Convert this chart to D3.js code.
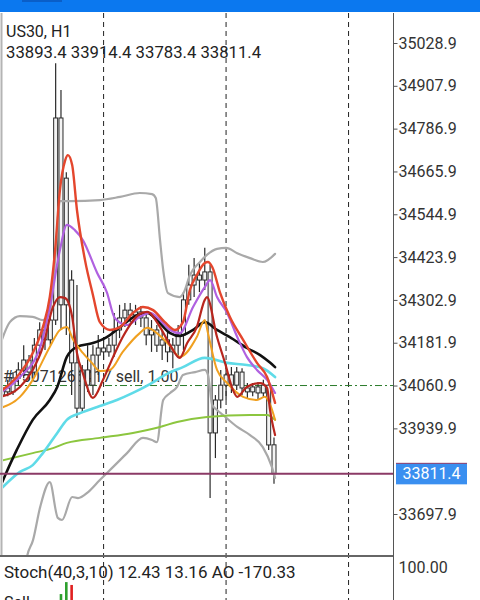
<!DOCTYPE html>
<html><head><meta charset="utf-8">
<script src="https://cdn.jsdelivr.net/npm/d3@7"></script>
<style>html,body{margin:0;padding:0;background:#fff;overflow:hidden}svg{display:block;font-family:Roboto,"Noto Sans",sans-serif}</style>
</head><body><svg id="c" width="480" height="600"></svg>
<script>
const symbolTitle = "US30, H1";
const ohlcHeader = [33893.4, 33914.4, 33783.4, 33811.4];
const priceTicks = [35028.9, 34907.9, 34786.9, 34665.9, 34544.9, 34423.9, 34302.9, 34181.9, 34060.9, 33939.9, 33697.9];
const lastPrice = 33811.4;
const tradePrice = 34060.9;
const tradeLabel = "#15071266417 sell, 1.00";
const daySeparators = [19, 42, 65];
const stochLabel = "Stoch(40,3,10) 12.43 13.16 AO -170.33";
const stochTicks = [100];
const sellLabel = "Sell";

const opens  = [34034,34054,34043,34082,34105,34133,34099,34175,34218,34190, 34246,34817,34289,34359,34125,33997,34105,34062,34147,34167, 34156,34175,34218,34252,34274,34260,34269,34252,34204,34218, 34175,34190,34156,34175,34204,34303,34345,34373,34359,34382, 33927,34020,34062,34091,34062,34099,34054,34043,34057,34040, 34062,33893.4];
const highs  = [34068,34077,34099,34127,34175,34147,34195,34240,34252,34303, 34972,34896,34664,34387,34345,34119,34175,34175,34204,34195, 34195,34266,34289,34294,34294,34289,34286,34269,34246,34232, 34218,34212,34195,34232,34325,34402,34421,34410,34450,34402, 34034,34105,34119,34113,34113,34110,34068,34068,34071,34077, 34077,33914.4];
const lows   = [34026,34031,34034,34062,34082,34077,34082,34147,34161,34175, 34232,34218,34204,34034,33969,33986,34043,34034,34091,34133, 34142,34142,34195,34226,34240,34232,34226,34175,34156,34156, 34133,34127,34110,34139,34161,34289,34311,34325,34331,33743, 33856,33997,34020,34040,34048,34034,34026,34031,34023,34029, 33879,33783.4];
const closes = [34054,34043,34082,34105,34133,34099,34175,34218,34190,34246, 34817,34289,34647,34125,33997,34105,34062,34147,34167,34156, 34175,34218,34252,34274,34260,34269,34252,34204,34218,34175, 34190,34156,34175,34204,34303,34345,34373,34359,34382,33927, 34020,34062,34091,34062,34099,34054,34043,34057,34040,34062, 33893,33811.4];

// indicator lines: [bar index, price]
const upperBand = [[-0.1,34190],[1.4,34240],[3.3,34257],[5.7,34255],[7.6,34246],[8.9,34269],[9.9,34416],[10.8,34582],[12.7,34582],[18.3,34585],[22.1,34594],[25.8,34605],[28.1,34602],[28.8,34591],[29.6,34472],[30.2,34387],[31.1,34322],[33.3,34311],[34.1,34325],[35.2,34373],[37.1,34410],[38.4,34430],[40.3,34447],[42.0,34450],[44.1,34435],[46.5,34421],[48.9,34410],[51.2,34433]];
const lowerBand = [[4.2,33540],[4.6,33576],[5.75,33624],[7.1,33718],[8.9,33788],[10.4,33687],[11.2,33681],[13.1,33746],[14.2,33743],[16.1,33760],[18.3,33794],[20.8,33831],[23.4,33870],[26.4,33913],[28.1,33907],[29.0,33901],[30.2,34020],[31.5,34040],[32.8,34057],[33.9,34091],[36.2,34099],[38.0,34105],[38.6,34091],[39.4,34006],[40.3,33992],[41.4,33978],[44.1,33944],[46.5,33921],[48.9,33887],[50.6,33831],[51.2,33800]];
const maBlack = [[-0.45,33774],[2.7,33879],[5.7,33964],[8.9,34020],[10.3,34057],[12.1,34142],[14.0,34170],[17.0,34181],[19.6,34198],[22.1,34226],[25.3,34260],[27.2,34266],[29.0,34246],[31.5,34209],[33.3,34201],[35.8,34218],[38.0,34240],[40.3,34218],[42.7,34198],[45.9,34167],[48.4,34147],[50.3,34125],[51.2,34113]];
const maCyan = [[-0.45,33766],[3.3,33817],[5.7,33836],[7.6,33870],[10.3,33927],[12.1,33964],[14.6,33983],[18.3,34003],[21.5,34020],[24.5,34040],[27.7,34065],[30.9,34094],[33.9,34113],[38.0,34139],[42.2,34125],[45.9,34119],[48.9,34110],[51.2,34085]];
const maGreen = [[-0.45,33848],[5.7,33870],[9.5,33884],[12.1,33899],[18.3,33913],[24.5,33927],[29.6,33944],[32.8,33958],[38.4,33972],[46.5,33978],[49.7,33978],[51.2,33964]];
const maPurple = [[-0.45,34040],[3.3,34085],[7.1,34170],[8.9,34283],[10.8,34444],[12.1,34515],[13.6,34500],[15.1,34472],[17.8,34379],[19.6,34325],[21.1,34252],[23.4,34232],[25.8,34255],[27.7,34266],[29.6,34246],[31.5,34218],[33.3,34209],[35.8,34283],[38.0,34339],[39.0,34359],[40.3,34311],[42.2,34266],[44.1,34198],[45.9,34142],[47.8,34105],[49.7,34077],[51.2,34040]];
const maOrange = [[-0.45,33997],[3.3,34029],[5.7,34077],[8.9,34170],[10.8,34218],[12.1,34226],[13.3,34190],[15.1,34153],[16.8,34125],[18.3,34102],[20.2,34105],[22.6,34156],[25.8,34209],[27.2,34224],[29.0,34209],[31.5,34173],[33.3,34142],[36.5,34198],[38.0,34246],[38.6,34209],[40.3,34105],[42.2,34068],[45.2,34029],[47.8,34020],[49.3,34029],[50.3,34006],[51.2,33964]];
const maDarkRed = [[-0.45,34029],[3.3,34057],[5.7,34105],[7.6,34170],[9.5,34283],[10.8,34311],[11.8,34308],[13.1,34255],[14.0,34153],[15.1,34096],[17.0,34026],[18.9,34077],[20.8,34142],[22.6,34198],[25.8,34263],[27.2,34269],[29.6,34226],[31.5,34175],[33.3,34139],[34.7,34181],[36.5,34226],[38.0,34303],[38.4,34311],[40.3,34198],[41.8,34125],[43.3,34048],[44.1,34029],[45.9,34057],[48.4,34068],[49.7,34054],[50.25,33992],[51.2,33921]];
const maRed = [[-0.45,34043],[3.3,34096],[5.7,34153],[7.6,34226],[8.9,34311],[9.9,34444],[10.8,34613],[11.8,34698],[12.3,34712],[13.1,34684],[14.0,34557],[15.5,34416],[17.0,34317],[18.3,34240],[20.2,34218],[22.1,34226],[24.5,34266],[26.4,34283],[28.3,34274],[30.5,34240],[32.4,34218],[33.9,34240],[35.2,34331],[36.5,34373],[38.0,34407],[38.6,34410],[39.4,34396],[40.9,34322],[42.7,34255],[45.2,34190],[47.8,34125],[49.7,34085],[51.2,34012]];

const aoIndex = [11, 12, 13];
const aoValues = [69, 115, 104];

const svg = d3.select("#c");
const W = 480, H = 600;
const axisX = 393, topY = 13, sepY = 556;

const x = d3.scaleLinear().domain([0, 51]).range([2.4, 274]);
const y = d3.scaleLinear().domain([33697.9, 35028.9]).range([514, 43]);
const yStoch = d3.scaleLinear().domain([0, 100]).range([720, 567]);
const yAO = d3.scaleLinear().domain([0, 200]).range([612, 560]);

svg.append("rect").attr("width", W).attr("height", H).attr("fill", "#fff");

// top bar
svg.append("rect").attr("x",0).attr("y",0).attr("width",W).attr("height",12).attr("fill","#0b78ef");
svg.append("rect").attr("x",22).attr("y",0).attr("width",40).attr("height",2).attr("fill","#0a5ec8");

const defs = svg.append("defs");
defs.append("clipPath").attr("id","main").append("rect").attr("x",3).attr("y",topY).attr("width",axisX-3).attr("height",sepY-topY);
defs.append("clipPath").attr("id","sub").append("rect").attr("x",3).attr("y",sepY+1).attr("width",axisX-3).attr("height",H-sepY);

// left border
svg.append("line").attr("x1",1.5).attr("x2",1.5).attr("y1",topY).attr("y2",sepY).attr("stroke","#b4b4b4").attr("stroke-width",2);

// day separators
svg.selectAll("line.day").data(daySeparators).join("line").attr("class","day")
  .attr("x1", d => x(d)).attr("x2", d => x(d)).attr("y1", topY).attr("y2", H)
  .attr("stroke","#222").attr("stroke-width",1).attr("stroke-dasharray","5,4");

// header
svg.append("text").attr("x",6).attr("y",37).attr("font-size",16).attr("fill","#222").text(symbolTitle);
svg.append("text").attr("x",6).attr("y",58).attr("font-size",16.7).attr("fill","#222").text(ohlcHeader.map(d=>d.toFixed(1)).join(" "));

const gMain = svg.append("g").attr("clip-path","url(#main)");

// trade line + label
gMain.append("line").attr("x1",0).attr("x2",axisX).attr("y1",y(tradePrice)).attr("y2",y(tradePrice))
  .attr("stroke","#2a7a2a").attr("stroke-width",1).attr("stroke-dasharray","7,3,2,3");
gMain.append("text").attr("x",3).attr("y",382).attr("font-size",16).attr("fill","#333").text(tradeLabel);

// candles
const idx = d3.range(opens.length);
gMain.selectAll("line.wick").data(idx).join("line").attr("class","wick")
  .attr("x1", i => x(i)).attr("x2", i => x(i))
  .attr("y1", i => y(highs[i])).attr("y2", i => y(lows[i]))
  .attr("stroke","#2a2a2a").attr("stroke-width",1.2);
gMain.selectAll("rect.body").data(idx).join("rect").attr("class","body")
  .attr("x", i => x(i) - 2).attr("width", 4)
  .attr("y", i => y(Math.max(opens[i], closes[i])))
  .attr("height", i => Math.max(1, Math.abs(y(opens[i]) - y(closes[i]))))
  .attr("fill","#f4f4f4").attr("stroke","#2a2a2a").attr("stroke-width",1);

// indicator lines
const line = d3.line().x(d => x(d[0])).y(d => y(d[1])).curve(d3.curveMonotoneX);
const series = [
  [upperBand, "#a9a9a9", 2.2],
  [lowerBand, "#a9a9a9", 2.2],
  [maGreen, "#8cc63f", 2],
  [maCyan, "#5fdbe8", 2.6],
  [maBlack, "#111111", 2.6],
  [maPurple, "#b061e0", 2.2],
  [maOrange, "#f0a020", 2],
  [maDarkRed, "#b8261e", 2.2],
  [maRed, "#e4462d", 2.4]
];
series.forEach(([data, color, w]) => {
  gMain.append("path").attr("d", line(data)).attr("fill","none").attr("stroke", color)
    .attr("stroke-width", w).attr("stroke-linejoin","round").attr("stroke-linecap","round");
});

// last price line
svg.append("line").attr("x1",0).attr("x2",axisX).attr("y1",y(lastPrice)).attr("y2",y(lastPrice))
  .attr("stroke","#8b3a66").attr("stroke-width",2);

// separator
svg.append("line").attr("x1",0).attr("x2",axisX).attr("y1",sepY).attr("y2",sepY).attr("stroke","#666").attr("stroke-width",2);

// sub window
const gSub = svg.append("g").attr("clip-path","url(#sub)");
gSub.selectAll("rect.ao").data(aoIndex).join("rect").attr("class","ao")
  .attr("x", i => x(i) - 1.3).attr("width", 2.6)
  .attr("y", (d, k) => yAO(aoValues[k])).attr("height", (d, k) => yAO(0) - yAO(aoValues[k]))
  .attr("fill", (d, k) => (k === 0 || aoValues[k] >= aoValues[k-1]) ? "#2ea02e" : "#e02020");
svg.append("text").attr("x",4).attr("y",578).attr("font-size",17).attr("fill","#222").text(stochLabel);
svg.append("text").attr("x",4).attr("y",608).attr("font-size",16).attr("fill","#222").text(sellLabel);

// axis
svg.append("line").attr("x1",axisX+0.5).attr("x2",axisX+0.5).attr("y1",topY).attr("y2",H).attr("stroke","#555").attr("stroke-width",1);
const ax = svg.append("g").attr("transform",`translate(${axisX+0.5},0)`)
  .call(d3.axisRight(y).tickValues(priceTicks).tickSize(4).tickPadding(1).tickFormat(d3.format(".1f")));
ax.select(".domain").remove();
ax.selectAll("line").attr("stroke","#555");
ax.selectAll("text").attr("font-size",16).attr("fill","#333").attr("font-family","Roboto");

const ax2 = svg.append("g").attr("transform",`translate(${axisX+0.5},0)`)
  .call(d3.axisRight(yStoch).tickValues(stochTicks).tickSize(0).tickPadding(5).tickFormat(d3.format(".2f")));
ax2.select(".domain").remove();
ax2.selectAll("text").attr("font-size",16).attr("fill","#333").attr("font-family","Roboto");

// price label
const ly = y(lastPrice);
svg.append("rect").attr("x",396).attr("y",ly-10.5).attr("width",71).attr("height",21).attr("fill","#3a8ff0");
svg.append("line").attr("x1",396).attr("x2",467).attr("y1",ly-10.5).attr("y2",ly-10.5).attr("stroke","#8b3a66").attr("stroke-width",1);
svg.append("text").attr("x",431.5).attr("y",ly).attr("dy","0.35em").attr("text-anchor","middle").attr("font-size",16).attr("fill","#fff").text(lastPrice.toFixed(1));
</script></body></html>
